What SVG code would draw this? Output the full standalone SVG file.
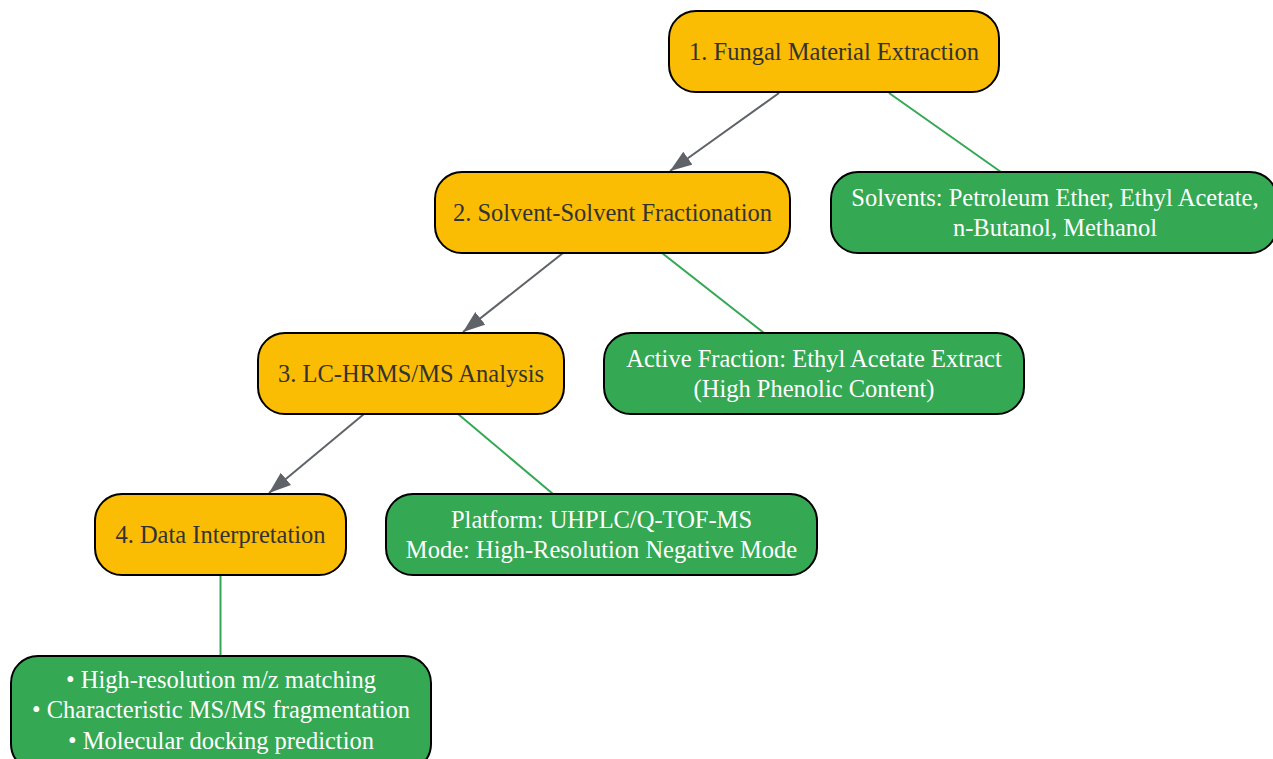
<svg xmlns="http://www.w3.org/2000/svg" width="1273" height="759" viewBox="0 0 1273 759">
<style>
.step rect{fill:#fbbc04;stroke:#000;stroke-width:2}
.info rect{fill:#34a853;stroke:#000;stroke-width:2}
text{font-family:"Liberation Serif","Times New Roman",serif;font-size:24.5px;text-anchor:middle}
.step text{fill:#333333}
.info text{fill:#ffffff}
.flow{stroke:#5f6368;stroke-width:2;fill:none}
.note{stroke:#34a853;stroke-width:2;fill:none}
</style>
<defs>
<marker id="arr" markerUnits="userSpaceOnUse" markerWidth="24" markerHeight="18" refX="22" refY="8" orient="auto">
<path d="M0,0 L22,8 L0,16 z" fill="#5f6368"/>
</marker>
</defs>
<rect width="1273" height="759" fill="#ffffff"/>
<g id="edges">
<line class="flow" x1="779" y1="93" x2="670" y2="171" marker-end="url(#arr)"/>
<line class="note" x1="889" y1="93" x2="1001" y2="172"/>
<line class="flow" x1="563" y1="253" x2="463" y2="332" marker-end="url(#arr)"/>
<line class="note" x1="662" y1="253" x2="764" y2="333"/>
<line class="flow" x1="364" y1="414" x2="269" y2="493" marker-end="url(#arr)"/>
<line class="note" x1="458" y1="414" x2="553" y2="494"/>
<line class="note" x1="220.5" y1="575" x2="220.5" y2="656"/>
</g>
<g id="n1" class="step">
<rect x="669" y="11" width="330" height="81" rx="27"/>
<text x="834" y="60">1. Fungal Material Extraction</text>
</g>
<g id="n2" class="step">
<rect x="435" y="172" width="355" height="81" rx="27"/>
<text x="612.5" y="221">2. Solvent-Solvent Fractionation</text>
</g>
<g id="n3" class="step">
<rect x="258" y="333" width="306" height="81" rx="27"/>
<text x="411" y="382">3. LC-HRMS/MS Analysis</text>
</g>
<g id="n4" class="step">
<rect x="95" y="494" width="251" height="81" rx="27"/>
<text x="220.5" y="543">4. Data Interpretation</text>
</g>
<g id="s1" class="info">
<rect x="831" y="172" width="446" height="81" rx="27"/>
<text x="1055" y="206">Solvents: Petroleum Ether, Ethyl Acetate,</text>
<text x="1055" y="236">n-Butanol, Methanol</text>
</g>
<g id="s2" class="info">
<rect x="604" y="333" width="420" height="81" rx="27"/>
<text x="814" y="367">Active Fraction: Ethyl Acetate Extract</text>
<text x="814" y="397">(High Phenolic Content)</text>
</g>
<g id="s3" class="info">
<rect x="386" y="494" width="431" height="81" rx="27"/>
<text x="601.5" y="528">Platform: UHPLC/Q-TOF-MS</text>
<text x="601.5" y="558">Mode: High-Resolution Negative Mode</text>
</g>
<g id="s4" class="info">
<rect x="11" y="656" width="420" height="115" rx="27"/>
<text x="221" y="688">• High-resolution m/z matching</text>
<text x="221" y="718">• Characteristic MS/MS fragmentation</text>
<text x="221" y="749">• Molecular docking prediction</text>
</g>
</svg>
